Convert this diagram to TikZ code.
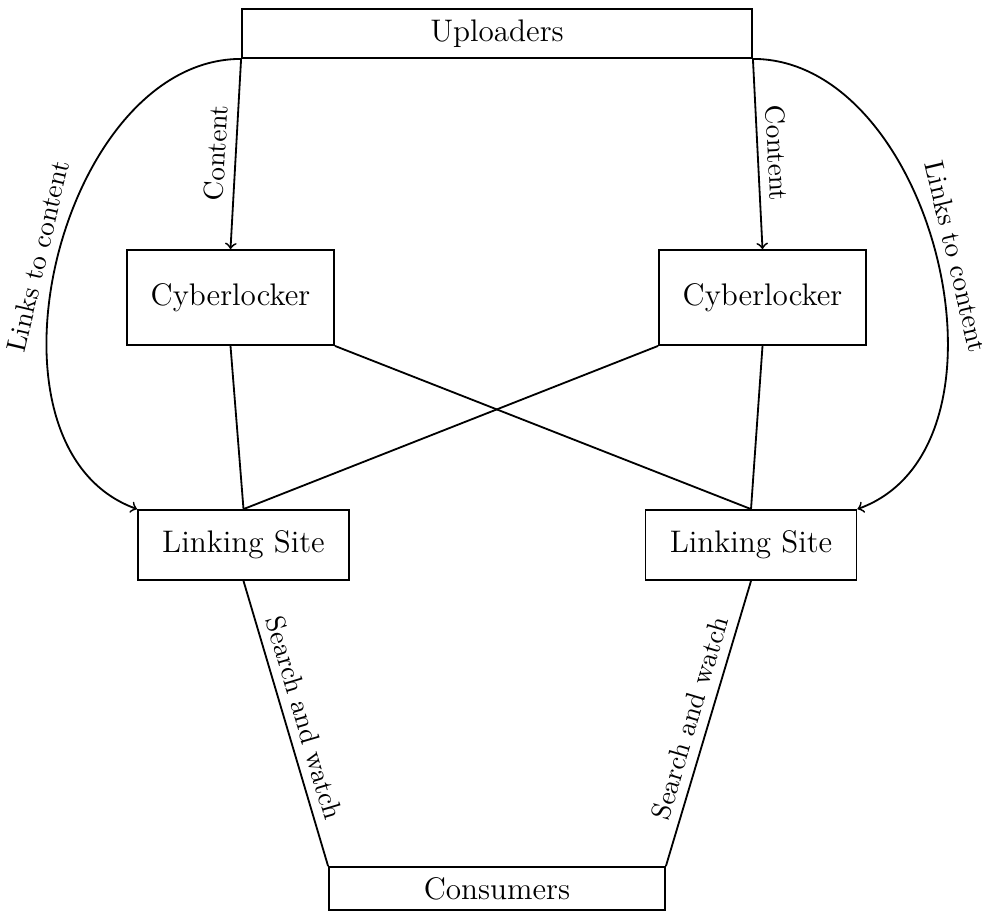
\documentclass[tikz,border=0pt]{standalone}
\newlength\pxu
\setlength\pxu{0.3846pt}
\begin{document}
\begin{tikzpicture}[x=0.3846pt,y=-0.3846pt,
  box/.style={draw,line width=0.7pt,rectangle,inner sep=0pt,font=\large},
  conn/.style={line width=0.7pt},
  lbl/.style={sloped,above,font=\fontsize{10.5}{12}\selectfont}]
\useasboundingbox (0,0) rectangle (982,911);
\node[box,minimum width=510\pxu,minimum height=49\pxu] (U) at (497,33.5) {Uploaders};
\node[box,minimum width=207\pxu,minimum height=95\pxu] (CL) at (230.5,297.5) {Cyberlocker};
\node[box,minimum width=207\pxu,minimum height=95\pxu] (CR) at (762.5,297.5) {Cyberlocker};
\node[box,minimum width=211\pxu,minimum height=70\pxu] (LL) at (243.5,545) {Linking Site};
\node[box,minimum width=211\pxu,minimum height=70\pxu] (LR) at (751,545) {Linking Site};
\node[box,minimum width=336\pxu,minimum height=43\pxu] (C) at (497,888.5) {Consumers};

\draw[conn,->] (U.south west) -- node[lbl] {Content} (CL.north);
\draw[conn,->] (U.south east) -- node[lbl] {Content} (CR.north);
\draw[conn,->] (U.south west) .. controls +(-182,0) and +(-171,-62) .. node[lbl,pos=0.5] {Links to content} (LL.north west);
\draw[conn,->] (U.south east) .. controls +(182,0) and +(171,-62) .. node[lbl,pos=0.5] {Links to content} (LR.north east);
\draw[conn] (CL.south) -- (LL.north);
\draw[conn] (CL.south east) -- (LR.north);
\draw[conn] (CR.south west) -- (LL.north);
\draw[conn] (CR.south) -- (LR.north);
\draw[conn] (LL.south) -- node[lbl] {Search and watch} (C.north west);
\draw[conn] (LR.south) -- node[lbl] {Search and watch} (C.north east);
\end{tikzpicture}
\end{document}
